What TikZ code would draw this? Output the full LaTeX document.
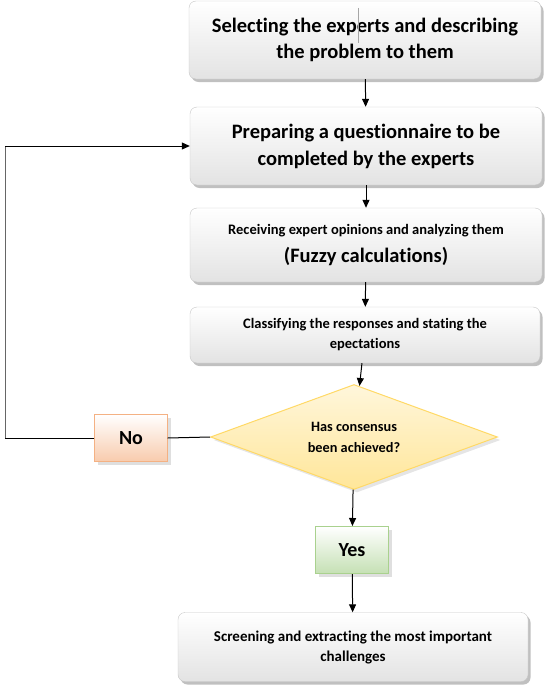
\documentclass[tikz,border=0pt]{standalone}
\usepackage{fontspec}
\setmainfont[Ligatures=NoCommon]{Carlito}
\usetikzlibrary{arrows.meta,shapes.geometric,shadows}
\tikzset{
	stage/.style={rectangle, rounded corners=7pt, draw=gray!45, top color=white, bottom color=gray!22,
		drop shadow={shadow xshift=2.5pt, shadow yshift=-3pt, fill=gray!55, opacity=.9},
		align=center, inner sep=2pt, font=\bfseries},
	answer/.style={rectangle, minimum width=73pt, minimum height=47pt, inner sep=0pt,
		drop shadow={shadow xshift=3pt, shadow yshift=-3pt, fill=gray!50}, font=\bfseries\fontsize{20}{24}\selectfont},
	link/.style={line width=1pt, -{Triangle[length=8pt,width=7pt]}}
}
\definecolor{nofill}{HTML}{F8CBAD}
\definecolor{nodraw}{HTML}{F4B183}
\definecolor{yesfill}{HTML}{C5E0B4}
\definecolor{yesdraw}{HTML}{A9D18E}
\definecolor{askfill}{HTML}{FFE699}
\definecolor{askdraw}{HTML}{FFD966}

\begin{document}
\begin{tikzpicture}[x=1pt, y=1pt]
			%%%%% START %%%%%
			\useasboundingbox (0,0) rectangle (545,-685);
			
			\node[stage, minimum width=352pt, minimum height=78pt, font=\bfseries\fontsize{20.5}{26}\selectfont] (select) at (365,-40)
				{Selecting the experts and describing\\the problem to them};
			\draw[gray!70, thin] (358,-8) -- (358,-43);
			
			\node[stage, minimum width=352pt, minimum height=78pt, font=\bfseries\fontsize{20.5}{27}\selectfont] (quest) at (366,-146)
				{Preparing a questionnaire to be\\completed by the experts};
			
			\node[stage, minimum width=352pt, minimum height=74pt] (receive) at (366,-245)
				{\fontsize{14.5}{17}\selectfont Receiving expert opinions and analyzing them\\[10pt]
				 \fontsize{20.5}{22}\selectfont (Fuzzy calculations)};
			
			\node[stage, minimum width=350pt, minimum height=56pt, font=\bfseries\fontsize{14.5}{20}\selectfont] (classify) at (365,-335)
				{Classifying the responses and stating the\\epectations};
			
			\node[diamond, aspect=2.75, minimum width=287pt, minimum height=105pt, inner sep=0pt,
				draw=askdraw, line width=1pt, top color=askfill!35, bottom color=askfill,
				drop shadow={shadow xshift=3pt, shadow yshift=-3pt, fill=gray!40},
				align=center, font=\bfseries\fontsize{14.3}{21}\selectfont] (ask) at (354,-437)
				{Has consensus\\been achieved?};
			
			\node[answer, draw=nodraw, top color=white, bottom color=nofill] (no) at (131,-438) {No};
			\node[answer, draw=yesdraw, line width=1pt, top color=white, bottom color=yesfill] (yes) at (352,-550) {Yes};
			
			\node[stage, minimum width=350pt, minimum height=69pt, font=\bfseries\fontsize{15}{20}\selectfont] (screen) at (353,-647)
				{Screening and extracting the most important\\challenges};
			
			\coordinate (back) at (5,-438);
			
			\draw[link] (select) -- (quest);
			\draw[link] (quest) -- (receive);
			\draw[link] (receive) -- (classify);
			\draw[link] (classify) -- (ask);
			\draw[link] (ask) -- (yes);
			\draw[link] (yes) -- (screen);
			\draw[line width=1pt] (ask.west) -- (no.east);
			\draw[line width=1pt] (no.west) -- (back);
			\draw[gray!80!black, line width=1pt] (back) -- (back |- quest.west);
			\draw[link] (back |- quest.west) -- (quest.west);
			
			%%%%% END %%%%%
\end{tikzpicture}
\end{document}
